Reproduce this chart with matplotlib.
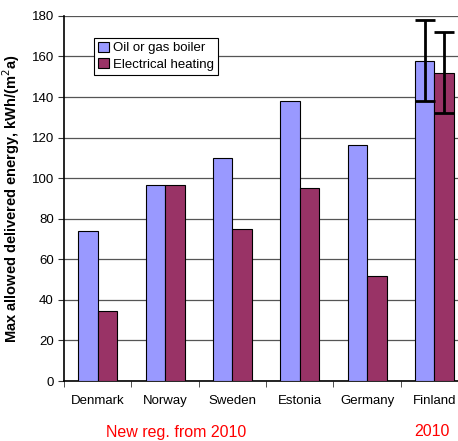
import numpy as np
import matplotlib
matplotlib.use("Agg")
import matplotlib.pyplot as plt

plt.rcParams['font.family'] = ['Liberation Sans', 'DejaVu Sans']

# Data
countries = ["Denmark", "Norway", "Sweden", "Estonia", "Germany", "Finland"]
oil_gas = [74, 96.5, 110, 138, 116.5, 158]
electrical = [34.5, 96.5, 75, 95, 52, 152]
oil_gas_err = [0, 0, 0, 0, 0, 20]
electrical_err = [0, 0, 0, 0, 0, 20]

fig = plt.figure(figsize=(4.58, 4.41), dpi=100)
ax = fig.add_axes([0.14, 0.136, 0.882, 0.828])

x = np.arange(len(countries))
w = 0.29
ax.bar(x - w / 2, oil_gas, w, color="#9999FF", edgecolor="black", linewidth=0.8,
       label="Oil or gas boiler", zorder=3)
ax.bar(x + w / 2, electrical, w, color="#993366", edgecolor="black", linewidth=0.8,
       label="Electrical heating", zorder=3)

# error bars only on Finland
i = len(countries) - 1
ax.errorbar(x[i] - w / 2, oil_gas[i], yerr=oil_gas_err[i], fmt="none", ecolor="black",
            elinewidth=2, capsize=7, capthick=2, zorder=4)
ax.errorbar(x[i] + w / 2, electrical[i], yerr=electrical_err[i], fmt="none", ecolor="black",
            elinewidth=2, capsize=7, capthick=2, zorder=4)

ax.set_xlim(-0.5, len(countries) - 0.5)
ax.set_ylim(0, 180)
ax.set_yticks(np.arange(0, 181, 20))
ax.yaxis.grid(True, color="#555555", linewidth=0.9, zorder=0)
ax.set_axisbelow(True)

ax.set_xticks(x)
ax.set_xticklabels(countries, fontsize=9.5)
ax.tick_params(axis="x", which="major", length=0, pad=10)
ax.set_xticks(np.arange(-0.5, len(countries)), minor=True)
ax.tick_params(axis="x", which="minor", length=4, color="#333333")
ax.tick_params(axis="y", labelsize=9.5, length=4, color="#333333")

for s in ["top", "right"]:
    ax.spines[s].set_visible(False)
ax.spines["left"].set_linewidth(1.2)
ax.spines["bottom"].set_linewidth(1.2)

ax.set_ylabel("Max allowed delivered energy, kWh/(m$^2$a)", fontsize=10.5,
              fontweight="bold", labelpad=7)

leg = ax.legend(loc="upper left", bbox_to_anchor=(0.075, 0.94), fontsize=9.5,
                frameon=True, fancybox=False, edgecolor="black", framealpha=1,
                handlelength=0.8, handleheight=0.8, handletextpad=0.3,
                borderpad=0.3, labelspacing=0.3, borderaxespad=0)
leg.get_frame().set_linewidth(0.8)

fig.text(176 / 458, 1 - 432 / 441, "New reg. from 2010", color="red", fontsize=11.5,
         ha="center", va="center")
fig.text(432 / 458, 1 - 432 / 441, "2010", color="red", fontsize=11.5,
         ha="center", va="center")

fig.savefig("out.png", dpi=100)
